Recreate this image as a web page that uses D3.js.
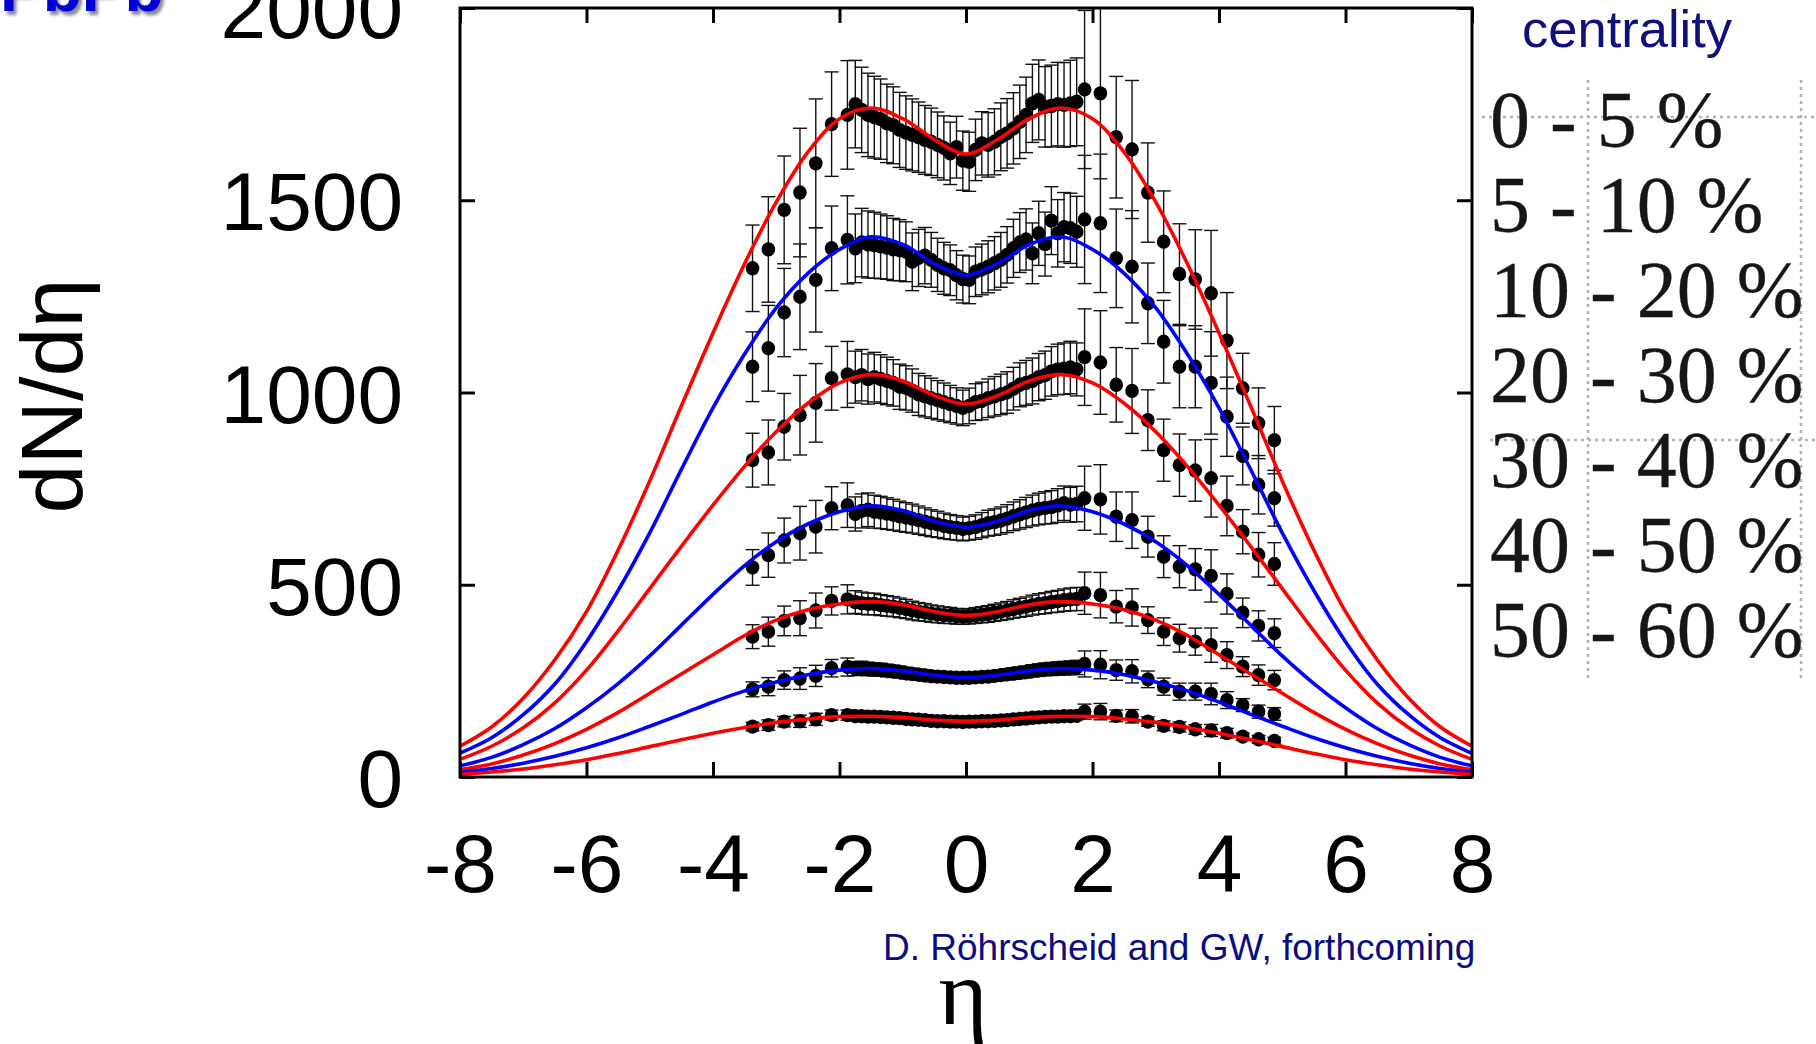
<!DOCTYPE html>
<html>
<head>
<meta charset="utf-8">
<script src="https://cdn.jsdelivr.net/npm/d3@7"></script>
<style>
  html, body { margin: 0; padding: 0; background: #fff; }
  svg { display: block; }
</style>
</head>
<body>
<svg id="chart" width="1816" height="1044"></svg>
<script>
// ---- measured pseudorapidity density, Pb-Pb, per centrality class ----
const centralityLabels = ["0 - 5 %", "5 - 10 %", "10 - 20 %", "20 - 30 %", "30 - 40 %", "40 - 50 %", "50 - 60 %"];

const etaData = [-3.375, -3.125, -2.875, -2.625, -2.375, -2.125, -1.875,
  -1.75, -1.65, -1.55, -1.45, -1.35, -1.25, -1.15, -1.05, -0.95, -0.85, -0.75, -0.65, -0.55, -0.45, -0.35, -0.25, -0.15, -0.05,
  0.05, 0.15, 0.25, 0.35, 0.45, 0.55, 0.65, 0.75, 0.85, 0.95, 1.05, 1.15, 1.25, 1.35, 1.45, 1.55, 1.65, 1.75,
  1.875, 2.125, 2.375, 2.625, 2.875, 3.125, 3.375, 3.625, 3.875, 4.125, 4.375, 4.625, 4.875];

// relative uncertainty of each eta bin
const relErr = [0.085, 0.10, 0.095, 0.11, 0.105, 0.08, 0.082,
  0.065, 0.064, 0.063, 0.062, 0.061, 0.06, 0.059, 0.058, 0.057, 0.056, 0.055, 0.054, 0.053, 0.052, 0.051, 0.05, 0.049, 0.048,
  0.048, 0.049, 0.05, 0.051, 0.052, 0.053, 0.054, 0.055, 0.056, 0.057, 0.058, 0.059, 0.06, 0.061, 0.062, 0.063, 0.064, 0.065,
  0.115, 0.125, 0.095, 0.11, 0.085, 0.095, 0.10, 0.10, 0.13, 0.11, 0.09, 0.10, 0.10];

const dN_0_5 = [1323, 1372, 1475, 1520, 1596, 1698, 1722,
  1750, 1735, 1722, 1716, 1711, 1700, 1695, 1683, 1676, 1670, 1664, 1657, 1652, 1644, 1636, 1622, 1638, 1603,
  1600, 1631, 1648, 1644, 1652, 1665, 1674, 1687, 1704, 1722, 1752, 1761, 1743, 1745, 1750, 1748, 1752, 1756,
  1788, 1778, 1664, 1632, 1520, 1392, 1308, 1294, 1258, 1135, 1011, 920, 876];
const dN_5_10 = [1067, 1115, 1208, 1249, 1293, 1375, 1397,
  1375, 1390, 1385, 1383, 1380, 1377, 1372, 1370, 1366, 1340, 1350, 1356, 1345, 1332, 1323, 1318, 1305, 1295,
  1293, 1314, 1320, 1327, 1336, 1345, 1358, 1375, 1390, 1398, 1362, 1414, 1386, 1447, 1414, 1430, 1427, 1418,
  1450, 1440, 1349, 1327, 1232, 1132, 1067, 1067, 1025, 937, 835, 760, 725];
const dN_10_20 = [824, 844, 911, 941, 973, 1037, 1047,
  1040, 1045, 1035, 1040, 1035, 1030, 1025, 1015, 1012, 1005, 995, 990, 985, 980, 975, 970, 965, 960,
  965, 975, 978, 985, 990, 995, 1000, 1010, 1020, 1025, 1030, 1040, 1045, 1055, 1060, 1062, 1065, 1060,
  1092, 1078, 1020, 1004, 928, 850, 811, 797, 777, 705, 638, 578, 554];
const dN_20_30 = [545, 577, 615, 634, 651, 699, 707,
  684, 692, 695, 690, 688, 685, 682, 678, 675, 672, 668, 664, 660, 657, 653, 650, 648, 645,
  647, 650, 655, 660, 663, 667, 672, 678, 683, 688, 693, 697, 700, 702, 706, 712, 708, 710,
  725, 722, 677, 668, 625, 573, 547, 540, 523, 476, 427, 393, 374];
const dN_30_40 = [365, 378, 406, 413, 433, 458, 462,
  455, 452, 450, 450, 447, 445, 443, 440, 437, 433, 430, 428, 425, 423, 421, 420, 418, 417,
  418, 420, 422, 424, 427, 430, 433, 437, 440, 443, 447, 450, 452, 455, 457, 460, 462, 463,
  478, 473, 443, 441, 408, 378, 361, 352, 343, 317, 287, 265, 252];
const dN_40_50 = [228, 235, 252, 256, 263, 283, 286,
  282, 283, 281, 280, 279, 277, 275, 273, 270, 268, 266, 264, 262, 261, 260, 259, 258, 258,
  258, 259, 260, 261, 263, 265, 267, 269, 271, 273, 276, 278, 280, 281, 282, 283, 284, 285,
  294, 292, 278, 275, 254, 235, 222, 222, 216, 200, 187, 170, 164];
const dN_50_60 = [131, 135, 144, 145, 150, 161, 161,
  158, 158, 157, 157, 156, 155, 154, 153, 151, 150, 149, 148, 146, 145, 145, 144, 144, 143,
  144, 144, 145, 145, 146, 147, 148, 150, 151, 152, 154, 155, 156, 157, 157, 158, 158, 159,
  170, 170, 159, 158, 144, 133, 130, 124, 121, 114, 105, 98, 94];

// ---- model curves, sampled every 0.5 in eta ----
const etaModel = [-8, -7.5, -7, -6.5, -6, -5.5, -5, -4.5, -4, -3.5, -3, -2.5, -2, -1.5, -1, -0.5, 0,
  0.5, 1, 1.5, 2, 2.5, 3, 3.5, 4, 4.5, 5, 5.5, 6, 6.5, 7, 7.5, 8];
const model_0_5 = [80, 130, 205, 305, 430, 590, 770, 965, 1155, 1335, 1495, 1625, 1712, 1740, 1712, 1658, 1620,
  1658, 1712, 1740, 1712, 1625, 1495, 1335, 1155, 965, 770, 590, 430, 305, 205, 130, 80];
const model_5_10 = [62, 102, 162, 242, 352, 485, 635, 800, 960, 1100, 1220, 1310, 1372, 1405, 1385, 1335, 1305,
  1335, 1385, 1405, 1372, 1310, 1220, 1100, 960, 800, 635, 485, 352, 242, 162, 102, 62];
const model_10_20 = [46, 80, 128, 193, 278, 380, 490, 600, 707, 808, 898, 972, 1025, 1047, 1030, 992, 970,
  992, 1030, 1047, 1025, 972, 898, 808, 707, 600, 490, 380, 278, 193, 128, 80, 46];
const model_20_30 = [29, 51, 84, 126, 180, 243, 315, 395, 475, 550, 612, 658, 690, 705, 693, 665, 650,
  665, 693, 705, 690, 658, 612, 550, 475, 395, 315, 243, 180, 126, 84, 51, 29];
const model_30_40 = [19, 34, 57, 87, 124, 168, 218, 268, 318, 368, 408, 435, 450, 456, 448, 430, 420,
  430, 448, 456, 450, 435, 408, 368, 318, 268, 218, 168, 124, 87, 57, 34, 19];
const model_40_50 = [12, 22, 36, 54, 76, 102, 132, 163, 195, 224, 247, 266, 278, 282, 276, 265, 259,
  265, 276, 282, 278, 266, 247, 224, 195, 163, 132, 102, 76, 54, 36, 22, 12];
const model_50_60 = [7, 13, 21, 32, 45, 61, 79, 97, 114, 129, 142, 151, 157, 158, 155, 148, 145,
  148, 155, 158, 157, 151, 142, 129, 114, 97, 79, 61, 45, 32, 21, 13, 7];

const xTicks = [-8, -6, -4, -2, 0, 2, 4, 6, 8];
const yTicks = [0, 500, 1000, 1500, 2000];

const measured = [dN_0_5, dN_5_10, dN_10_20, dN_20_30, dN_30_40, dN_40_50, dN_50_60];
const models = [model_0_5, model_5_10, model_10_20, model_20_30, model_30_40, model_40_50, model_50_60];
const modelColors = ["#ff0000", "#0000ff", "#ff0000", "#0000ff", "#ff0000", "#0000ff", "#ff0000"];

// ---- layout ----
const svg = d3.select("#chart");
const plot = { left: 460, right: 1472, top: 8, bottom: 777 };
const x = d3.scaleLinear().domain([-8, 8]).range([plot.left, plot.right]);
const y = d3.scaleLinear().domain([0, 2000]).range([plot.bottom, plot.top]);
const sans = "'Liberation Sans', Arial, Helvetica, sans-serif";
const serif = "'Liberation Serif', 'Times New Roman', serif";

svg.append("rect").attr("width", 1816).attr("height", 1044).attr("fill", "#fff");

const defs = svg.append("defs");
defs.append("clipPath").attr("id", "plotClip")
  .append("rect").attr("x", plot.left).attr("y", plot.top)
  .attr("width", plot.right - plot.left).attr("height", plot.bottom - plot.top);
defs.append("filter").attr("id", "soft").attr("x", "-5%").attr("y", "-5%").attr("width", "110%").attr("height", "110%")
  .append("feGaussianBlur").attr("stdDeviation", 0.7);
defs.append("filter").attr("id", "shadowBlur")
  .append("feGaussianBlur").attr("stdDeviation", 1.6);

// ---- title fragment in the corner ----
const title = svg.append("g");
title.append("text").attr("x", 3).attr("y", 15).text("PbPb")
  .attr("font-family", sans).attr("font-weight", "bold").attr("font-size", 64)
  .attr("fill", "#8a8a9a").attr("filter", "url(#shadowBlur)");
title.append("text").attr("x", 0).attr("y", 11).text("PbPb")
  .attr("font-family", sans).attr("font-weight", "bold").attr("font-size", 64)
  .attr("fill", "#0000d4");

// ---- data points with error bars ----
const gData = svg.append("g").attr("clip-path", "url(#plotClip)");
measured.forEach((vals) => {
  const pts = vals.map((v, i) => ({ eta: etaData[i], v, e: v * relErr[i] }));
  const g = gData.append("g");
  const bars = g.selectAll("g.bar").data(pts).join("g").attr("class", "bar")
    .attr("stroke", "#111").attr("stroke-width", 1.4);
  bars.append("line")
    .attr("x1", d => x(d.eta)).attr("x2", d => x(d.eta))
    .attr("y1", d => y(d.v - d.e)).attr("y2", d => y(d.v + d.e));
  bars.append("line")
    .attr("x1", d => x(d.eta) - 7).attr("x2", d => x(d.eta) + 7)
    .attr("y1", d => y(d.v + d.e)).attr("y2", d => y(d.v + d.e));
  bars.append("line")
    .attr("x1", d => x(d.eta) - 7).attr("x2", d => x(d.eta) + 7)
    .attr("y1", d => y(d.v - d.e)).attr("y2", d => y(d.v - d.e));
  g.selectAll("ellipse").data(pts).join("ellipse")
    .attr("cx", d => x(d.eta)).attr("cy", d => y(d.v)).attr("rx", 6.8).attr("ry", 7.2)
    .attr("fill", "#000");
});

// ---- model curves ----
const line = d3.line()
  .x(d => x(d[0])).y(d => y(d[1]))
  .curve(d3.curveCatmullRom.alpha(0.5));
const gModel = svg.append("g").attr("clip-path", "url(#plotClip)");
models.forEach((vals, k) => {
  gModel.append("path")
    .datum(vals.map((v, i) => [etaModel[i], v]))
    .attr("d", line)
    .attr("fill", "none")
    .attr("stroke", modelColors[k])
    .attr("stroke-width", 3.6)
    .attr("stroke-linejoin", "round");
});

// ---- axes ----
function styleAxis(g) {
  g.select(".domain").remove();
  g.selectAll(".tick line").attr("stroke", "#000").attr("stroke-width", 3);
  g.selectAll(".tick text").attr("font-family", sans).attr("font-size", 82).attr("fill", "#000");
}
svg.append("g").attr("transform", `translate(0,${plot.bottom})`)
  .call(d3.axisBottom(x).tickValues(xTicks).tickFormat(d3.format("d")).tickSizeInner(-15).tickSizeOuter(0).tickPadding(57))
  .call(styleAxis)
  .call(g => g.selectAll(".tick text").text(d => String(d)));
svg.append("g").attr("transform", `translate(0,${plot.top})`)
  .call(d3.axisTop(x).tickValues(xTicks).tickFormat("").tickSizeInner(-15).tickSizeOuter(0))
  .call(styleAxis);
svg.append("g").attr("transform", `translate(${plot.left},0)`)
  .call(d3.axisLeft(y).tickValues(yTicks).tickFormat(d3.format("d")).tickSizeInner(-15).tickSizeOuter(0).tickPadding(57))
  .call(styleAxis)
  .call(g => g.selectAll(".tick text").attr("dy", "0.36em"));
svg.append("g").attr("transform", `translate(${plot.right},0)`)
  .call(d3.axisRight(y).tickValues(yTicks).tickFormat("").tickSizeInner(-15).tickSizeOuter(0))
  .call(styleAxis);

svg.append("rect")
  .attr("x", plot.left).attr("y", plot.top)
  .attr("width", plot.right - plot.left).attr("height", plot.bottom - plot.top)
  .attr("fill", "none").attr("stroke", "#000").attr("stroke-width", 3);

// ---- axis titles ----
svg.append("text")
  .attr("transform", "translate(82,396) rotate(-90)")
  .attr("text-anchor", "middle")
  .attr("font-family", sans).attr("font-size", 88).attr("fill", "#000")
  .text("dN/dη");
svg.append("text")
  .attr("x", 963).attr("y", 1024).attr("text-anchor", "middle")
  .attr("font-family", serif).attr("font-size", 94).attr("fill", "#000")
  .text("η");
svg.append("text")
  .attr("x", 883).attr("y", 960)
  .attr("font-family", sans).attr("font-size", 37).attr("fill", "#0c0c80")
  .text("D. Röhrscheid and GW, forthcoming");

// ---- legend ----
svg.append("text")
  .attr("x", 1522).attr("y", 47)
  .attr("font-family", sans).attr("font-size", 52.5).attr("fill", "#10107a")
  .text("centrality");

const legend = svg.append("g").attr("filter", "url(#soft)");
const dotted = { stroke: "#b4b4b4", width: 2.6, dash: "3,4" };
[[1482, 117, 1816, 117], [1490, 440, 1816, 440], [1588, 80, 1588, 681], [1801, 80, 1801, 681]]
  .forEach(([x1, y1, x2, y2]) => {
    legend.append("line").attr("x1", x1).attr("y1", y1).attr("x2", x2).attr("y2", y2)
      .attr("stroke", dotted.stroke).attr("stroke-width", dotted.width).attr("stroke-dasharray", dotted.dash);
  });
legend.selectAll("text.entry").data(centralityLabels).join("text")
  .attr("class", "entry")
  .attr("x", 1490)
  .attr("y", (d, i) => 147 + i * 85)
  .attr("font-family", serif).attr("font-size", 80).attr("fill", "#161616")
  .attr("stroke", "#161616").attr("stroke-width", 0.3)
  .attr("xml:space", "preserve")
  .text(d => d);
</script>
</body>
</html>
